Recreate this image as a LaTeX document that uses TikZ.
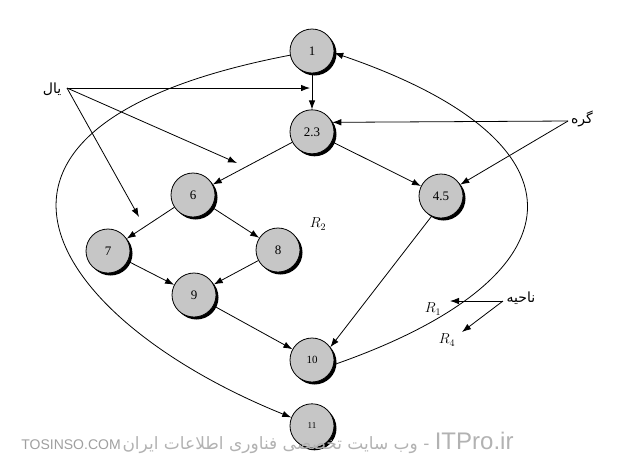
\documentclass[tikz,border=0pt]{standalone}
\usepackage{fontspec}
\setmainfont{Liberation Serif}
\newfontfamily\arabicfont[Script=Arabic]{DejaVu Sans}
\newfontfamily\wmfont{Liberation Sans}
\TeXXeTstate=1
\usetikzlibrary{arrows.meta,shadows}
\usetikzlibrary{positioning}

\begin{document}
\begin{tikzpicture}[
x=1pt, y=-1pt, line width=0.8pt,
>={Latex[length=9pt,width=6.5pt]},
vert/.style={circle, draw=black, fill=gray!45, minimum size=44pt, inner sep=0pt, font=\fontsize{13}{13}\selectfont,
  drop shadow={shadow xshift=2.5pt, shadow yshift=-2.5pt, fill=black, opacity=1}},
fa/.style={font=\arabicfont\fontsize{14}{14}\selectfont},
reg/.style={font=\fontsize{14}{14}\selectfont},
wm/.style={text=gray!60, inner sep=0pt},
]
\useasboundingbox (0,0) rectangle (621,467);

\node[vert] (n1) at (312,51) {1};
\node[vert] (n23) [below=36pt of n1] {2.3};
\node[vert] (n6) at (193,195) {6};
\node[vert] (n45) at (441,196) {4.5};
\node[vert] (n7) at (108,251) {7};
\node[vert] (n8) at (278,250) {8};
\node[vert] (n9) at (194,295) {9};
\node[vert, font=\fontsize{11}{11}\selectfont] (n10) at (312,360) {10};
\node[vert, font=\fontsize{9}{9}\selectfont] (n11) [below=21pt of n10] {11};

\draw[->] (n1) -- (n23);
\draw[->] (n23) -- (n6);
\draw[->] (n23) -- (n45);
\draw[->] (n6) -- (n7);
\draw[->] (n6) -- (n8);
\draw[->] (n7) -- (n9);
\draw[->] (n8) -- (n9);
\draw[->] (n9) -- (n10);
\draw[->] (n45.245) -- (n10.35);
\draw[->] (n10.-12) .. controls (583,278) and (598,143) .. (n1.-5);
\draw[->] (n1) .. controls (-85,127) and (50,320) .. (n11);

\node[fa] (yal) at (52,89) {\beginR یال\endR};
\coordinate (yalp) at (67,88);
\coordinate (e1) at (310,88);
\coordinate (e2) at (237,163);
\coordinate (e3) at (139,217);
\draw[->] (yalp) -- (e1);
\draw[->] (yalp) -- (e2);
\draw[->] (yalp) -- (e3);

\node[fa] (gereh) at (582,119) {\beginR گره\endR};
\coordinate (gerehp) at (568,121);
\draw[->] (gerehp) -- (n23.25);
\draw[->] (gerehp) -- (n45);

\node[reg] (r2) at (318,224) {$R_2$};
\node[reg] (r1) at (433,309) {$R_1$};
\node[reg] (r4) at (447,340) {$R_4$};
\node[fa] (nahiye) at (521,298) {\beginR ناحیه\endR};
\coordinate (nahiyep) at (503,301);
\coordinate (t1) at (450,301);
\coordinate (t4) at (462,332);
\draw[->] (nahiyep) -- (t1);
\draw[->] (nahiyep) -- (t4);

\node[wm, text=gray!75, font=\wmfont\fontsize{14}{14}\selectfont] (tosinso) at (71,445) {TOSINSO.COM};
\node[wm, font=\arabicfont\fontsize{17}{17}\selectfont] (itpro) at (318,443)
  {\beginR\beginL{\wmfont\fontsize{24}{24}\selectfont ITPro.ir}\endL{} - وب سایت تخصصی فناوری اطلاعات ایران\endR};
\end{tikzpicture}
\end{document}
